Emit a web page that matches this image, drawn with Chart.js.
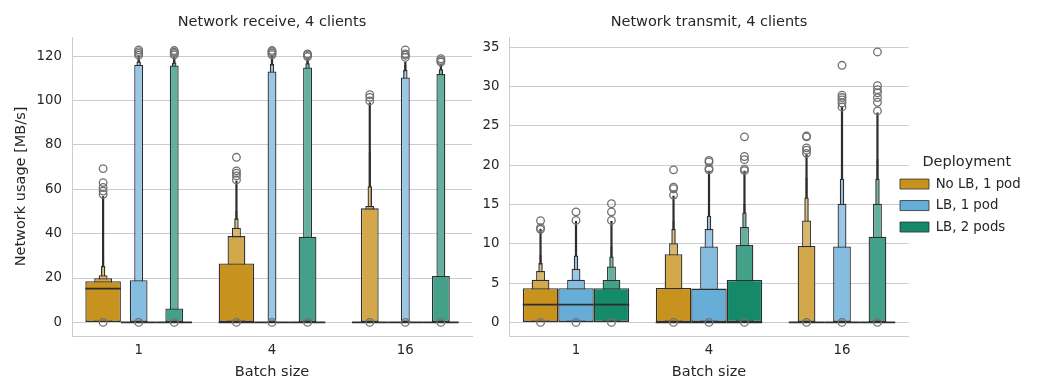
<!DOCTYPE html>
<html>
<head>
<meta charset="utf-8">
<title>Network usage, 4 clients</title>
<script src="https://cdn.jsdelivr.net/npm/chart.js@4.4.1/dist/chart.umd.min.js"></script>
<style>
  html, body { margin: 0; padding: 0; background: #ffffff; }
  #wrap { position: relative; width: 1048px; height: 379px; overflow: hidden; }
  canvas { position: absolute; top: 0; display: block; }
  #rx { left: 0; }
  #tx { left: 480px; }
</style>
</head>
<body>
<div id="wrap">
  <canvas id="rx" width="480" height="379"></canvas>
  <canvas id="tx" width="568" height="379"></canvas>
</div>
<script>
// ---- categories ----
const batchSizes = ['1', '4', '16'];
const deployments = ['No LB, 1 pod', 'LB, 1 pod', 'LB, 2 pods'];
const deploymentColors = ['#c8921e', '#66add8', '#158a6b'];

// lowest letter value of every distribution (idle samples)
const usageFloor = 0;

// ---- Network receive [MB/s] ----
// upper letter values per batch size: quartile, eighth, sixteenth, ... (0 = box collapsed on the floor)
const rxNoLbLevels = [
  [18.6, 19.9, 21.3, 25.4, 31.0, null],
  [26.6, 38.9, 42.7, 46.9, 50.2, 55.0],
  [0, 51.4, 52.5, 61.4, 76.8, 82.6]
];
const rxNoLbWhisker = [56.9, 63.8, 99.1];
const rxNoLbMedian = [15.2, 0, 0];
const rxNoLbOutliers = [
  [0, 57.7, 59.2, 60.8, 63.0, 69.3],
  [0, 64.2, 66.0, 67.2, 68.3, 74.4],
  [0, 99.8, 101.4, 102.6]
];

const rxLb1Levels = [
  [0, 19.0, 116.1, 117.6, 118.8, null],
  [0, 0, 113.1, 116.4, 118.5, null],
  [0, 0, 110.4, 113.8, 116.0, null]
];
const rxLb1Whisker = [120.0, 120.0, 117.5];
const rxLb1Median = [0, 0, 0];
const rxLb1Outliers = [
  [0, 120.4, 121.2, 122.0, 122.8],
  [0, 120.6, 121.3, 122.0, 122.5],
  [0, 119.4, 120.4, 121.0, 122.8]
];

const rxLb2Levels = [
  [0, 6.3, 115.8, 117.1, 118.5, null],
  [0, 38.6, 114.9, 116.8, 118.0, null],
  [0, 20.9, 111.9, 114.1, 115.5, null]
];
const rxLb2Whisker = [119.8, 118.8, 116.5];
const rxLb2Median = [0, 0, 0];
const rxLb2Outliers = [
  [0, 120.5, 121.2, 121.8, 122.5],
  [0, 119.8, 120.5, 121.0],
  [0, 117.3, 118.0, 118.8]
];

const rxTicks = [0, 20, 40, 60, 80, 100, 120];
const rxRange = [-6.12, 128.6];

// ---- Network transmit [MB/s] ----
const txNoLbLevels = [
  [4.34, 5.43, 6.53, 7.54, 8.6, null],
  [4.38, 8.67, 10.07, 11.88, 12.97, null],
  [0, 9.73, 12.97, 15.88, 18.36, null]
];
const txNoLbWhisker = [11.9, 16.1, 21.4];
const txNoLbMedian = [2.27, 0, 0];
const txNoLbOutliers = [
  [0, 11.84, 12.05, 12.93],
  [0, 16.2, 17.0, 17.2, 19.4],
  [0, 21.5, 21.9, 22.2, 23.6, 23.7]
];

const txLb1Levels = [
  [4.34, 5.43, 6.82, 8.51, 9.65, null],
  [4.3, 9.65, 11.88, 13.56, 14.7, null],
  [0, 9.65, 15.1, 18.28, 20.6, 23.6]
];
const txLb1Whisker = [12.9, 19.3, 27.5];
const txLb1Median = [2.27, 0, 0];
const txLb1Outliers = [
  [0, 12.97, 14.06],
  [0, 19.4, 19.6, 20.4, 20.6],
  [0, 27.4, 27.9, 28.3, 28.6, 28.9, 32.7]
];

const txLb2Levels = [
  [4.34, 5.4, 7.12, 8.38, 9.65, null],
  [5.39, 9.86, 12.13, 13.98, 15.1, null],
  [0, 10.9, 15.1, 18.28, 20.8, 24.5]
];
const txLb2Whisker = [12.9, 19.3, 26.7];
const txLb2Median = [2.27, 0, 0];
const txLb2Outliers = [
  [0, 12.97, 14.06, 15.1],
  [0, 19.3, 19.5, 20.7, 21.1, 23.6],
  [0, 26.9, 28.0, 28.6, 29.2, 29.6, 30.1, 34.4]
];

const txTicks = [0, 5, 10, 15, 20, 25, 30, 35];
const txRange = [-1.73, 36.3];

// ---- styling ----
const FONT = '"DejaVu Sans", "Liberation Sans", sans-serif';
const INK = '#262626';
const EDGE = '#2e2e2e';
const GRID = '#cccccc';
const FLIER = '#707070';
const TICK_SIZE = 13.3;
const LABEL_SIZE = 14.5;
const dodgeWidth = 0.8;                                  // share of a category used by the hue boxes
const levelTint = [0, 0.2, 0.33, 0.43, 0.5, 0.56];      // lighter fill for deeper letter values

function tint(hex, t) {
  const n = parseInt(hex.slice(1), 16);
  const mix = v => Math.round(v + (255 - v) * t);
  return `rgb(${mix((n >> 16) & 255)},${mix((n >> 8) & 255)},${mix(n & 255)})`;
}

const hueStep = dodgeWidth / deployments.length;
const hueOffset = h => (h - (deployments.length - 1) / 2) * hueStep;

function boxenDatasets(p) {
  const sets = [];
  // one bar dataset per letter-value depth; width halves at each depth
  levelTint.forEach((t, k) => {
    const data = [];
    p.levels.forEach((perBatch, h) => perBatch.forEach((vals, b) => {
      const top = vals[k];
      if (top != null && top > usageFloor) data.push({ x: b + hueOffset(h), y: [usageFloor, top], h });
    }));
    sets.push({
      type: 'bar', data, order: k + 2, grouped: false,
      categoryPercentage: 1, barPercentage: Math.pow(0.5, k),
      backgroundColor: c => (c.raw ? tint(deploymentColors[c.raw.h], t) : EDGE),
      borderColor: EDGE, borderWidth: 1.3, borderSkipped: false, inflateAmount: 0
    });
  });
  // thin tail up to the last non-outlier value
  const tail = [];
  p.whiskers.forEach((perBatch, h) => perBatch.forEach((top, b) => {
    tail.push({ x: b + hueOffset(h), y: [usageFloor, top], h });
  }));
  sets.push({
    type: 'bar', data: tail, order: 40, grouped: false,
    categoryPercentage: 1, barPercentage: 1, maxBarThickness: 2.2,
    backgroundColor: EDGE, borderWidth: 0, inflateAmount: 0
  });
  // median marks across the widest box
  const med = [];
  p.medians.forEach((perBatch, h) => perBatch.forEach((m, b) => med.push({ x: b + hueOffset(h), y: m })));
  sets.push({
    type: 'scatter', data: med, order: 1, pointStyle: 'line',
    pointRadius: c => {
      const s = c.chart.scales.x;
      return Math.abs(s.getPixelForValue(hueStep) - s.getPixelForValue(0)) / 2;
    },
    pointHoverRadius: 0, pointBorderColor: EDGE, pointBorderWidth: 1.7
  });
  // outliers
  const fl = [];
  p.outliers.forEach((perBatch, h) => perBatch.forEach((vals, b) => vals.forEach(v => fl.push({ x: b + hueOffset(h), y: v }))));
  sets.push({
    type: 'scatter', data: fl, order: 0, pointStyle: 'circle',
    pointRadius: 3.8, pointHoverRadius: 3.8,
    pointBackgroundColor: 'rgba(0,0,0,0)', pointBorderColor: FLIER, pointBorderWidth: 1.3
  });
  return sets;
}

// legend sits just outside the plot, slightly overlapping its right edge
const legendPlacer = {
  id: 'legendPlacer',
  afterLayout(chart) {
    const lg = chart.legend;
    if (!lg || !lg.options.display) return;
    lg.left = chart.chartArea.right - 16.7;
    lg.width = 150;
    lg.right = lg.left + lg.width;
    lg.top += 8.8;
    lg.bottom += 8.8;
  }
};

function buildChart(id, p) {
  return new Chart(document.getElementById(id), {
    type: 'bar',
    data: { datasets: boxenDatasets(p) },
    plugins: p.legend ? [legendPlacer] : [],
    options: {
      responsive: false,
      animation: false,
      events: [],
      layout: { padding: { left: 0, right: p.padRight, top: 0, bottom: 0 } },
      plugins: {
        title: {
          display: true, text: p.title, fullSize: false, color: INK,
          font: { family: FONT, size: LABEL_SIZE, weight: 'normal' },
          padding: { top: 13.3, bottom: 6.3 }
        },
        legend: p.legend ? {
          display: true, position: 'right', align: 'center', maxWidth: 110,
          title: { display: true, text: 'Deployment', color: INK, padding: 0,
                   font: { family: FONT, size: LABEL_SIZE, lineHeight: 1.0 } },
          labels: {
            boxWidth: 29, boxHeight: 10, padding: 8.2, color: INK,
            font: { family: FONT, size: TICK_SIZE },
            generateLabels: () => deployments.map((d, i) => ({
              text: d, fillStyle: deploymentColors[i], strokeStyle: EDGE,
              lineWidth: 0.8, hidden: false, fontColor: INK
            }))
          }
        } : { display: false },
        tooltip: { enabled: false }
      },
      scales: {
        x: {
          type: 'linear', min: -0.5, max: batchSizes.length - 0.5, offset: false,
          afterBuildTicks: s => { s.ticks = batchSizes.map((_, i) => ({ value: i })); },
          afterFit: s => { s.height = 43; },
          ticks: { callback: v => batchSizes[v], color: INK, font: { family: FONT, size: TICK_SIZE },
                   padding: 7, maxRotation: 0, autoSkip: false },
          grid: { display: false, drawTicks: false },
          border: { display: true, color: GRID, width: 1 },
          title: { display: true, text: 'Batch size', color: INK,
                   font: { family: FONT, size: LABEL_SIZE, lineHeight: 1.0 }, padding: { top: 0, bottom: 0 } }
        },
        y: {
          type: 'linear', min: p.range[0], max: p.range[1],
          afterBuildTicks: s => { s.ticks = p.ticks.map(v => ({ value: v })); },
          afterFit: s => { s.width = p.yWidth; },
          ticks: { color: INK, font: { family: FONT, size: TICK_SIZE }, padding: 10 },
          grid: { color: GRID, lineWidth: 1, drawTicks: false },
          border: { display: true, color: GRID, width: 1 },
          title: p.yTitle ? { display: true, text: p.yTitle, color: INK,
                              font: { family: FONT, size: LABEL_SIZE }, padding: { top: 12.3, bottom: 0 } }
                          : { display: false }
        }
      }
    }
  });
}

buildChart('rx', {
  title: 'Network receive, 4 clients',
  yTitle: 'Network usage [MB/s]',
  levels: [rxNoLbLevels, rxLb1Levels, rxLb2Levels],
  whiskers: [rxNoLbWhisker, rxLb1Whisker, rxLb2Whisker],
  medians: [rxNoLbMedian, rxLb1Median, rxLb2Median],
  outliers: [rxNoLbOutliers, rxLb1Outliers, rxLb2Outliers],
  ticks: rxTicks, range: rxRange,
  yWidth: 72, padRight: 8, legend: false
});

buildChart('tx', {
  title: 'Network transmit, 4 clients',
  yTitle: null,
  levels: [txNoLbLevels, txLb1Levels, txLb2Levels],
  whiskers: [txNoLbWhisker, txLb1Whisker, txLb2Whisker],
  medians: [txNoLbMedian, txLb1Median, txLb2Median],
  outliers: [txNoLbOutliers, txLb1Outliers, txLb2Outliers],
  ticks: txTicks, range: txRange,
  yWidth: 29.5, padRight: 29.5, legend: true
});
</script>
</body>
</html>
